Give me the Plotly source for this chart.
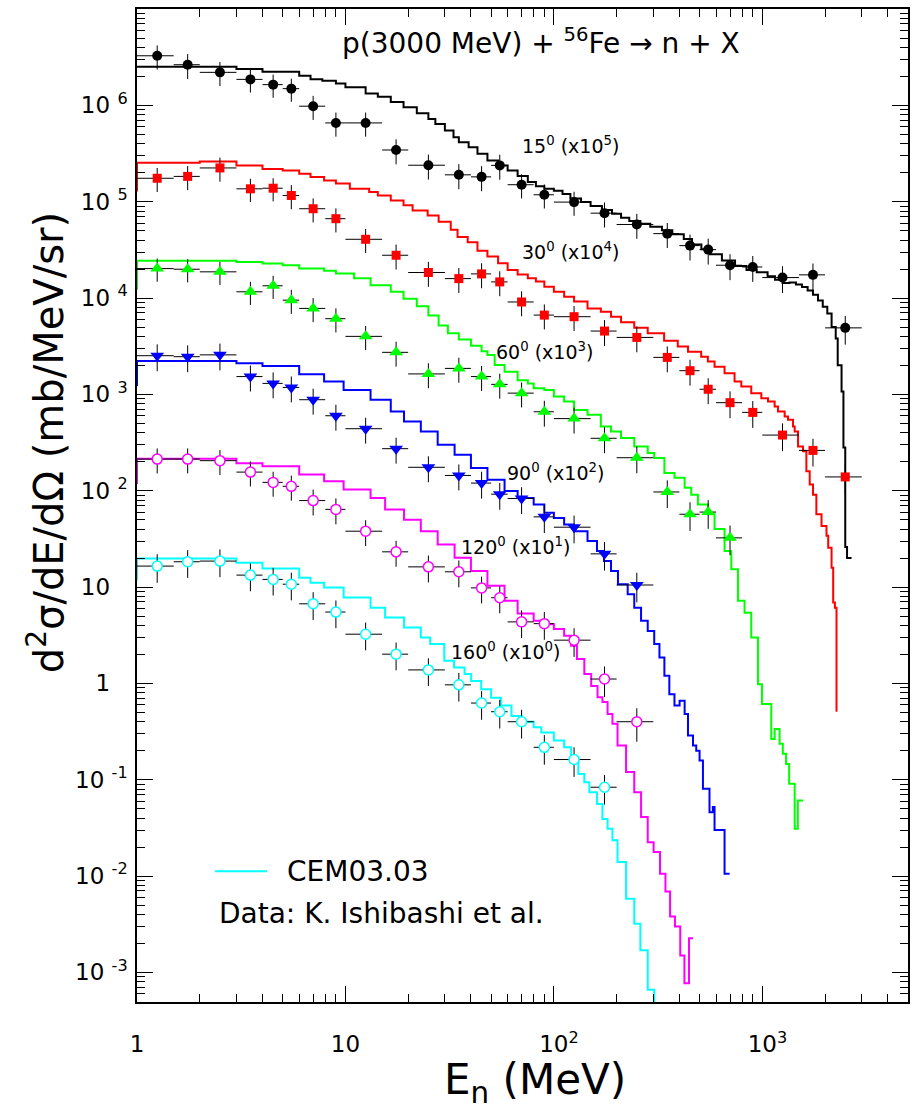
import math
import plotly.graph_objects as go

# ---------------- data (values as plotted, already scaled) ----------------
E_lo = [1, 1.5, 2, 3, 4, 5, 6, 8, 10, 15, 20, 30, 40, 50, 60, 80, 100, 150, 200, 300, 400, 500, 600, 800, 1000, 1500, 2000]
E_hi = [1.5, 2, 3, 4, 5, 6, 8, 10, 15, 20, 30, 40, 50, 60, 80, 100, 150, 200, 300, 400, 500, 600, 800, 1000, 1500, 2000, 3000]
E_pt = [1.25, 1.75, 2.5, 3.5, 4.5, 5.5, 7, 9, 12.5, 17.5, 25, 35, 45, 55, 70, 90, 125, 175, 250, 350, 450, 550, 700, 900, 1250, 1750, 2500]

dat15 = [3.27e6, 2.64e6, 2.2e6, 1.86e6, 1.64e6, 1.49e6, 9.8e5, 6.57e5, 6.57e5, 3.44e5, 2.39e5, 1.9e5, 1.81e5, 2.38e5,
         1.5e5, 1.18e5, 9.9e4, 7.6e4, 5.8e4, 4.66e4, 3.5e4, 3.18e4, 2.19e4, 2.1e4, 1.63e4, 1.74e4, 4.9e3]
dat30 = [1.75e5, 1.83e5, 2.24e5, 1.36e5, 1.38e5, 1.16e5, 8.45e4, 6.66e4, 4.07e4, 2.78e4, 1.84e4, 1.59e4, 1.78e4, 1.47e4,
         9.1e3, 6.65e3, 6.4e3, 4.54e3, 3.9e3, 2.42e3, 1.76e3, 1.13e3, 8.2e2, 6.5e2, 3.78e2, 2.62e2, 1.39e2]
dat60 = [2.02e4, 1.99e4, 1.87e4, 1.16e4, 1.34e4, 9.5e3, 7.8e3, 6.1e3, 4.0e3, 2.73e3, 1.63e3, 1.86e3, 1.53e3, 1.27e3,
         1.03e3, 660, 560, 350, 220, 97, 57, 60, 32.4]
dat90 = [2.52e3, 2.46e3, 2.57e3, 1.53e3, 1.30e3, 1.18e3, 880, 600, 440, 273, 175, 144, 120, 92, 83, 53.5, 41.8, 22.1, 10.5]
dat120 = [213, 213, 205, 156, 122, 111, 79, 64, 38, 23.2, 16.2, 14.4, 9.8, 7.75, 4.35, 4.17, 2.81, 1.11, 0.40]
dat160 = [16.5, 18.3, 18.6, 13.3, 12.0, 10.7, 6.7, 5.5, 3.24, 2.01, 1.38, 0.966, 0.625, 0.508, 0.40, 0.217, 0.162, 0.0836]

# relative uncertainties
err15 = [0.28, 0.29, 0.28, 0.27, 0.27, 0.27, 0.28, 0.28, 0.28, 0.29, 0.29, 0.29, 0.29, 0.29, 0.28, 0.28, 0.28, 0.29,
         0.29, 0.29, 0.30, 0.30, 0.30, 0.30, 0.31, 0.31, 0.33]
err30 = [0.28, 0.28, 0.28, 0.27, 0.27, 0.28, 0.28, 0.28, 0.28, 0.29, 0.29, 0.29, 0.29, 0.29, 0.29, 0.29, 0.29, 0.30,
         0.30, 0.30, 0.30, 0.30, 0.31, 0.31, 0.32, 0.32, 0.33]
err60 = [0.27, 0.27, 0.27, 0.27, 0.27, 0.28, 0.28, 0.28, 0.28, 0.29, 0.29, 0.29, 0.29, 0.29, 0.29, 0.30, 0.30, 0.30,
         0.31, 0.32, 0.33, 0.33, 0.34]
err90 = [0.31, 0.31, 0.31, 0.30, 0.30, 0.30, 0.30, 0.30, 0.30, 0.30, 0.30, 0.30, 0.31, 0.31, 0.31, 0.32, 0.32, 0.33, 0.34]
err120 = [0.29, 0.29, 0.29, 0.29, 0.29, 0.29, 0.30, 0.30, 0.30, 0.30, 0.31, 0.31, 0.31, 0.31, 0.32, 0.32, 0.33, 0.35, 0.38]
err160 = [0.33, 0.32, 0.32, 0.32, 0.32, 0.32, 0.32, 0.32, 0.32, 0.32, 0.32, 0.33, 0.33, 0.33, 0.33, 0.34, 0.34, 0.34]

# CEM03.03 histograms (bin edges in MeV, bin contents as plotted)
h15_edges = [1, 3, 4, 6, 6.8, 7.75, 9, 10, 12.5, 14.3, 16.5, 19, 22, 25, 27, 30, 33, 35, 39, 43, 48, 54, 60, 67, 75, 82,
             90, 100, 110, 120, 135, 150, 170, 190, 210, 230, 260, 290, 330, 370, 420, 460, 510, 560, 640, 740, 840,
             940, 1060, 1150, 1250, 1350, 1450, 1550, 1650, 1750, 1850, 1950, 2050, 2150, 2250, 2300, 2400, 2450,
             2500, 2550, 2680]
h15_vals = [2.51e6, 2.38e6, 2.23e6, 2.03e6, 1.87e6, 1.80e6, 1.69e6, 1.54e6, 1.33e6, 1.23e6, 1.08e6, 9.56e5, 8.28e5,
            7.23e5, 6.42e5, 5.48e5, 4.67e5, 4.14e5, 3.68e5, 3.14e5, 2.68e5, 2.38e5, 2.11e5, 1.85e5, 1.6e5, 1.45e5,
            1.36e5, 1.3e5, 1.2e5, 1.08e5, 9.9e4, 9.0e4, 8.2e4, 7.5e4, 6.8e4, 6.3e4, 5.9e4, 5.5e4, 5.05e4, 4.6e4,
            4.1e4, 3.6e4, 3.2e4, 2.85e4, 2.45e4, 2.15e4, 1.95e4, 1.85e4, 1.68e4, 1.55e4, 1.43e4, 1.45e4, 1.38e4,
            1.3e4, 1.2e4, 1.08e4, 9.4e3, 8.1e3, 6.9e3, 5.0e3, 3.8e3, 2.0e3, 1.07e3, 2.8e2, 26, 20]

h30_edges = [0.5, 1, 2, 3, 4, 5, 6, 6.8, 7.9, 9, 10.5, 13, 14.3, 16.5, 19, 21, 24.8, 28, 32, 34.5, 38.6, 43, 48, 54,
             60, 67, 75, 82, 90, 100, 112, 125, 145, 168, 188, 210, 243, 282, 338, 393, 440, 509, 548, 590, 659, 736,
             793, 885, 989, 1065, 1146, 1189, 1280, 1328, 1404, 1430, 1484, 1568, 1627, 1688, 1751, 1817, 1923, 2032,
             2071, 2149, 2188, 2230, 2270, 2290]
h30_vals = [1.31e5, 2.53e5, 2.61e5, 2.38e5, 2.19e5, 2.11e5, 1.95e5, 1.80e5, 1.66e5, 1.54e5, 1.36e5, 1.26e5, 1.16e5,
            1.03e5, 9.2e4, 8.1e4, 7.2e4, 6.2e4, 5.1e4, 4.3e4, 3.8e4, 3.1e4, 2.7e4, 2.3e4, 1.95e4, 1.75e4, 1.6e4,
            1.48e4, 1.31e4, 1.16e4, 1.03e4, 9.2e3, 7.8e3, 7.2e3, 6.4e3, 5.6e3, 4.9e3, 4.3e3, 3.6e3, 3.13e3, 2.77e3,
            2.46e3, 2.19e3, 1.94e3, 1.66e3, 1.36e3, 1.21e3, 1.03e3, 912, 843, 748, 664, 589, 544, 465, 412, 288, 256,
            159, 116, 91, 57, 43, 34, 25.6, 15.9, 6.9, 6.1, 0.52]

h60_edges = [0.5, 1, 3, 4, 5, 6, 7.9, 9, 11, 13.2, 16.5, 19, 22, 25, 28, 31, 35, 40, 45, 48, 52, 58, 67, 75, 80, 90,
             100, 112, 125, 145, 168, 188, 210, 243, 282, 303, 339, 379, 424, 456, 491, 548, 590, 659, 710, 764, 822,
             885, 953, 996, 1104, 1146, 1210, 1254, 1300, 1345, 1430, 1480, 1570]
h60_vals = [1.25e4, 2.43e4, 2.37e4, 2.28e4, 2.19e4, 2.02e4, 1.92e4, 1.80e4, 1.6e4, 1.36e4, 1.16e4, 9.8e3, 8.2e3,
            6.6e3, 5.2e3, 4.3e3, 3.7e3, 3.2e3, 2.8e3, 2.56e3, 2.02e3, 1.72e3, 1.40e3, 1.30e3, 1.16e3, 1.11e3, 948,
            843, 690, 613, 465, 412, 352, 288, 246, 218, 153, 136, 107, 91, 72, 57, 40, 23.6, 15.3, 7.2, 5.4, 3.0,
            0.98, 0.61, 0.265, 0.337, 0.236, 0.186, 0.146, 0.091, 0.031, 0.061]

h90_edges = [0.5, 1, 3, 4, 6, 7.9, 9.8, 13.2, 16.5, 19.1, 23, 27.7, 33.4, 40, 48, 58, 67, 80, 90, 100, 112, 125, 145,
             161, 174, 188, 203, 226, 243, 262, 282, 303, 321, 339, 358, 379, 401, 424, 440, 465, 482, 500, 519, 558,
             579, 590, 659, 697]
h90_vals = [1.25e3, 2.22e3, 2.1e3, 1.97e3, 1.62e3, 1.36e3, 1.11e3, 877, 664, 523, 412, 300, 236, 172, 130, 99, 84,
            72, 59, 52, 44.5, 38, 30, 23.6, 18.6, 14.7, 10.7, 8.4, 6.1, 4.46, 3.5, 2.56, 1.86, 1.2, 0.77, 0.59, 0.66,
            0.48, 0.287, 0.226, 0.2, 0.158, 0.0805, 0.046, 0.052, 0.030, 0.0106]

h120_edges = [0.5, 1, 3, 4, 6, 7.9, 9.8, 13.2, 15.5, 19.1, 23, 27.7, 33.4, 40, 48, 58, 67, 80, 90, 100, 112, 121, 129,
              140, 151, 162, 171, 181, 191, 202, 222, 243, 262, 282, 301, 323, 343, 361, 381, 404, 423, 445, 465]
h120_vals = [120, 215, 193, 179, 147, 125, 103, 84, 64, 50, 38, 27.7, 20.2, 14.7, 10.3, 7.2, 5.3, 4.47, 4.1, 3.66,
             3.12, 2.46, 1.79, 1.25, 0.94, 0.72, 0.64, 0.48, 0.38, 0.226, 0.12, 0.074, 0.041, 0.0225, 0.0178, 0.0106,
             0.0069, 0.0038, 0.0030, 0.0015, 0.00077, 0.00226]

h160_edges = [0.5, 1, 3, 4, 6, 6.8, 7.9, 9.8, 13.2, 15.5, 19.1, 23, 25.5, 29.8, 33.2, 37.3, 40.1, 44.8, 50, 55.7, 62.6,
              70, 80, 87, 100, 112, 121, 131, 140, 148, 161, 171, 181, 191, 202, 222, 243, 260, 282, 303, 330]
h160_vals = [12.0, 19.8, 17.9, 15.6, 12.5, 11.1, 9.9, 7.8, 6.1, 4.83, 3.8, 3.0, 2.56, 1.72, 1.46, 1.25, 1.06, 0.87,
             0.71, 0.59, 0.46, 0.40, 0.35, 0.31, 0.255, 0.217, 0.171, 0.115, 0.094, 0.074, 0.056, 0.039, 0.031,
             0.0235, 0.014, 0.0058, 0.0032, 0.0017, 0.00066, 0.0003]

angle_labels = ["15<sup>0</sup> (x10<sup>5</sup>)", "30<sup>0</sup> (x10<sup>4</sup>)", "60<sup>0</sup> (x10<sup>3</sup>)",
                "90<sup>0</sup> (x10<sup>2</sup>)", "120<sup>0</sup> (x10<sup>1</sup>)", "160<sup>0</sup> (x10<sup>0</sup>)"]

# ---------------- figure ----------------
W, H = 922, 1109
L, R, T, B = 137, 14, 7, 107
PW, PH = W - L - R, H - T - B


def px(x):
    return (x - L) / PW


def py(y):
    return (H - B - y) / PH


FONT = "DejaVu Sans"

series = [
    (h15_edges, h15_vals, dat15, err15, "#000000", dict(symbol="circle", size=10, color="#000000")),
    (h30_edges, h30_vals, dat30, err30, "#ff0000", dict(symbol="square", size=9, color="#ff0000")),
    (h60_edges, h60_vals, dat60, err60, "#00ff00", dict(symbol="triangle-up", size=12, color="#00ff00")),
    (h90_edges, h90_vals, dat90, err90, "#0000ff", dict(symbol="triangle-down", size=12, color="#0000ff")),
    (h120_edges, h120_vals, dat120, err120, "#ff00ff",
     dict(symbol="circle", size=10, color="white", line=dict(color="#ff00ff", width=1.5))),
    (h160_edges, h160_vals, dat160, err160, "#00ffff",
     dict(symbol="circle", size=10, color="white", line=dict(color="#00ffff", width=1.5))),
]

fig = go.Figure()

for edges, vals, dat, err, col, mk in series:
    assert len(edges) == len(vals) + 1
    fig.add_trace(go.Scatter(x=list(edges), y=list(vals) + [vals[-1]], mode="lines",
                             line=dict(color=col, width=2, shape="hv"), showlegend=False, hoverinfo="skip"))

for edges, vals, dat, err, col, mk in series:
    n = len(dat)
    assert len(err) == n
    xs = E_pt[:n]
    mk = dict(mk)
    if "line" not in mk:
        mk["line"] = dict(width=0)
    fig.add_trace(go.Scatter(
        x=xs, y=dat, mode="markers", marker=mk, showlegend=False,
        error_x=dict(type="data", symmetric=False,
                     array=[E_hi[i] - E_pt[i] for i in range(n)],
                     arrayminus=[E_pt[i] - E_lo[i] for i in range(n)],
                     color="black", thickness=1, width=0),
        error_y=dict(type="data", array=[dat[i] * err[i] for i in range(n)],
                     color="black", thickness=1, width=0),
    ))

INV = "<span style='color:white'>%s</span>"
x_tickvals = [1, 10, 100, 1000]
x_ticktext = ["1", "10", "<sup>" + INV % "2" + "</sup>10<sup>2</sup>", "<sup>" + INV % "3" + "</sup>10<sup>3</sup>"]
x_minor = [m * 10 ** d for d in range(0, 4) for m in range(2, 10)]

y_tickvals = [10.0 ** k for k in range(-3, 7)]
y_ticktext = []
for k in range(-3, 7):
    if k == 0:
        y_ticktext.append("1 <sup>" + INV % "0" + "</sup>")
    elif k == 1:
        y_ticktext.append("10 <sup>" + INV % "0" + "</sup>")
    else:
        y_ticktext.append("10 <sup>%d</sup>" % k)
y_minor = [m * 10.0 ** d for d in range(-4, 7) for m in range(2, 10)]

axis_common = dict(type="log", showline=True, linecolor="black", linewidth=1.5, mirror="ticks",
                   ticks="inside", ticklen=16, tickwidth=1, tickcolor="black", showgrid=False, zeroline=False,
                   tickfont=dict(family=FONT, size=23, color="black"))

fig.update_xaxes(range=[0, math.log10(5000)], tickmode="array", tickvals=x_tickvals, ticktext=x_ticktext,
                 minor=dict(tickmode="array", tickvals=x_minor, ticks="inside", ticklen=8, tickcolor="black",
                            tickwidth=1, showgrid=False),
                 ticklabelstandoff=21, **axis_common)
fig.update_yaxes(range=[math.log10(4.93e-4), 7], tickmode="array", tickvals=y_tickvals, ticktext=y_ticktext,
                 minor=dict(tickmode="array", tickvals=y_minor, ticks="inside", ticklen=8, tickcolor="black",
                            tickwidth=1, showgrid=False),
                 ticklabelstandoff=3, **axis_common)

ann = []
ann.append(dict(text="p(3000 MeV) + <sup>56</sup>Fe \u2192 n + X", x=px(541), y=py(40), xref="paper", yref="paper",
                xanchor="center", yanchor="middle", showarrow=False, font=dict(family=FONT, size=28, color="black")))
label_pos = [(520, 143), (520, 249), (494, 350), (505, 471), (459, 545), (449, 650)]
for txt, (lx, ly) in zip(angle_labels, label_pos):
    ann.append(dict(text=txt, x=px(lx), y=py(ly), xref="paper", yref="paper", xanchor="left", yanchor="middle",
                    showarrow=False, font=dict(family=FONT, size=19, color="black")))
ann.append(dict(text="CEM03.03", x=px(285), y=py(871), xref="paper", yref="paper", xanchor="left",
                yanchor="middle", showarrow=False, font=dict(family=FONT, size=28, color="black")))
ann.append(dict(text="Data: K. Ishibashi et al.", x=px(217), y=py(913), xref="paper", yref="paper",
                xanchor="left", yanchor="middle", showarrow=False, font=dict(family=FONT, size=28, color="black")))
ann.append(dict(text="d<sup>2</sup>\u03c3/dE/d\u03a9 (mb/MeV/sr)", x=px(46), y=py(442), xref="paper",
                yref="paper", xanchor="center", yanchor="middle", textangle=-90, showarrow=False,
                font=dict(family=FONT, size=40, color="black")))
ann.append(dict(text="E<sub>n</sub> (MeV)", x=px(535), y=py(1083), xref="paper", yref="paper",
                xanchor="center", yanchor="middle", showarrow=False, font=dict(family=FONT, size=42, color="black")))

fig.update_layout(
    width=W, height=H, margin=dict(l=L, r=R, t=T, b=B, pad=0),
    plot_bgcolor="white", paper_bgcolor="white", showlegend=False,
    annotations=ann,
    shapes=[dict(type="line", xref="paper", yref="paper", x0=px(215), x1=px(267), y0=py(871), y1=py(871),
                 line=dict(color="#00ffff", width=2))],
)

fig.write_html("out.html", config={"displayModeBar": False},
               post_script="document.body.style.margin='0px';document.body.style.padding='0px';")
